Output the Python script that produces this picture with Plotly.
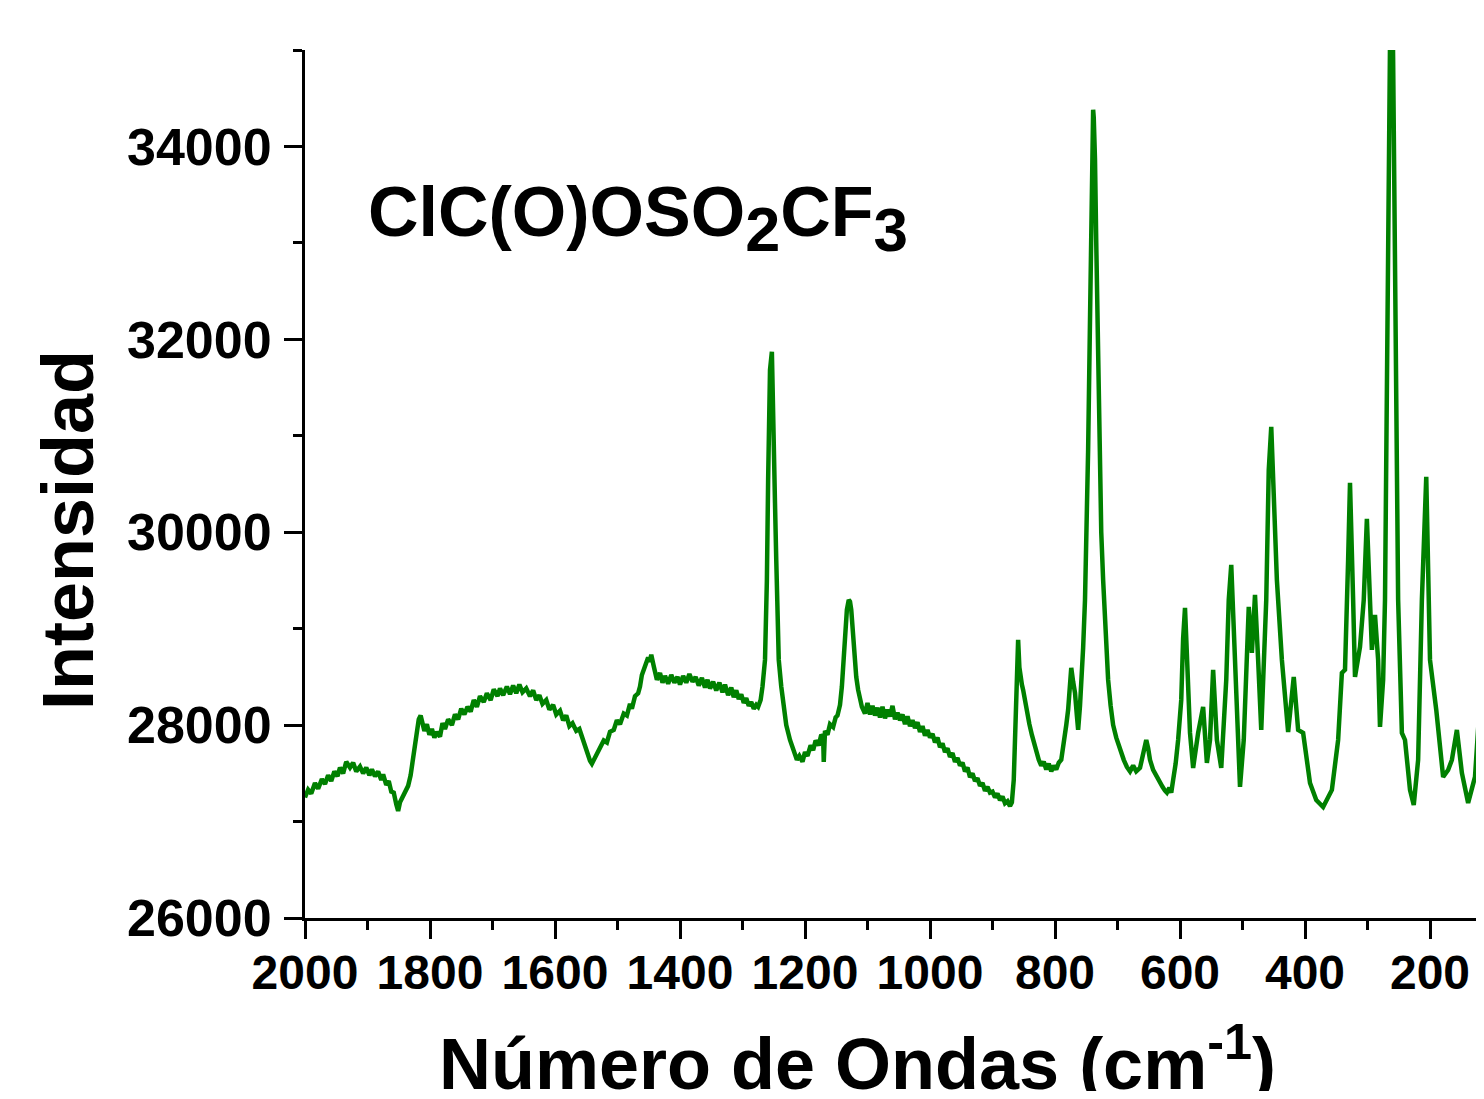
import plotly.graph_objects as go

# Raman spectrum (wavenumber in cm-1, intensity in counts)
wavenumber = [
    2000, 1995, 1990, 1984, 1979, 1973, 1968, 1963, 1958, 1953, 1948, 1944, 1939, 1934,
    1928, 1923, 1918, 1912, 1907, 1902, 1897, 1893, 1888, 1883, 1878, 1875, 1870, 1866,
    1862, 1858, 1854, 1851, 1848, 1845, 1840, 1835, 1831, 1827, 1824, 1822, 1818, 1815,
    1813, 1809, 1805, 1801, 1797, 1793, 1789, 1784, 1780, 1776, 1771, 1765, 1760, 1755,
    1750, 1745, 1740, 1735, 1730, 1725, 1720, 1714, 1709, 1703, 1698, 1692, 1688, 1683,
    1677, 1672, 1667, 1662, 1657, 1652, 1646, 1640, 1635, 1630, 1625, 1620, 1614, 1609,
    1603, 1598, 1592, 1587, 1582, 1577, 1572, 1566, 1561, 1555, 1551, 1547, 1544, 1541,
    1537, 1533, 1528, 1522, 1517, 1512, 1506, 1501, 1496, 1490, 1485, 1480, 1477, 1472,
    1467, 1464, 1461, 1458, 1455, 1451, 1448, 1446, 1442, 1439, 1437, 1432, 1428, 1424,
    1419, 1414, 1409, 1404, 1400, 1395, 1390, 1385, 1380, 1375, 1370, 1365, 1360, 1356,
    1352, 1347, 1342, 1337, 1332, 1328, 1323, 1318, 1314, 1310, 1306, 1302, 1298, 1294,
    1290, 1286, 1282, 1278, 1275, 1271,
    1268, 1264, 1261, 1259, 1256, 1253, 1250, 1248, 1246, 1244, 1242, 1238, 1235, 1230,
    1224, 1218, 1213, 1209, 1204, 1200, 1196, 1191, 1187, 1183, 1178, 1174, 1171, 1170,
    1168, 1164, 1160, 1155, 1151, 1148, 1144, 1141, 1138, 1135, 1133, 1130, 1128, 1126,
    1124, 1122, 1118, 1115, 1112, 1109, 1104, 1100, 1096, 1092, 1088, 1084, 1080, 1076,
    1072, 1068, 1064, 1060, 1056, 1052, 1048, 1044, 1040, 1036, 1032, 1028, 1024, 1020,
    1016, 1012, 1008, 1004, 1000, 996, 992, 988, 984, 980, 976, 972, 968, 964,
    960, 956, 952, 948, 944, 940, 936, 932, 928, 924, 920, 916, 912, 908,
    904, 900, 896, 892, 888, 884, 880, 876, 872, 869, 866, 862, 859, 857,
    856, 853, 851, 848, 845, 841, 837, 833, 829, 826, 822, 818, 814, 810,
    806, 802, 798, 794, 790, 786, 782, 779, 776, 774, 771, 768, 765, 763,
    760, 757, 755, 752, 749, 747, 744, 742, 740, 739, 738, 736, 734, 731,
    728, 726, 723, 719, 715, 711, 707, 702, 696, 690, 685, 680, 675, 670,
    664, 660, 657, 654, 651, 648, 643, 638, 632, 628, 624, 621, 617, 614,
    611, 607, 603, 600, 598, 595, 592, 590, 587, 585, 584,
    579, 571, 563, 557, 552, 547, 541, 534, 526, 522, 518, 515, 510, 504,
    498, 490, 485, 480, 475, 470, 462, 458, 454, 451, 445, 437, 427, 418,
    411, 403, 392, 382, 371, 357, 347, 341, 336, 331, 328, 323, 320, 312,
    306, 301, 296, 293, 288, 283, 280, 275, 272, 267, 264, 262, 259, 256,
    251, 245, 240, 232, 226, 219, 213, 206, 203, 200, 190, 179, 171, 165,
    157, 149, 139, 128, 120, 114, 104,
]
intensity = [
    27250, 27330, 27290, 27400, 27340, 27440, 27390, 27480, 27420, 27520, 27470, 27560, 27500, 27620,
    27560, 27610, 27520, 27570, 27500, 27560, 27480, 27540, 27470, 27520, 27430, 27490, 27380, 27420,
    27310, 27300, 27180, 27110, 27200, 27240, 27300, 27370, 27480, 27640, 27780, 27870, 28060, 28100,
    28050, 27940, 28010, 27900, 27960, 27870, 27930, 27880, 28020, 27960, 28060, 28000, 28110, 28060,
    28170, 28110, 28190, 28140, 28260, 28190, 28300, 28240, 28330, 28260, 28370, 28300, 28380, 28310,
    28400, 28320, 28410, 28330, 28420, 28340, 28380, 28300, 28360, 28260, 28310, 28220, 28260, 28160,
    28210, 28110, 28150, 28050, 28100, 27990, 28020, 27940, 27960, 27840, 27780, 27700, 27630, 27600,
    27650, 27720, 27760, 27840, 27820, 27930, 27950, 28050, 28010, 28120, 28100, 28220, 28170, 28300,
    28330, 28400, 28520, 28570, 28640, 28700, 28660, 28730, 28610, 28520, 28470, 28540, 28440, 28510,
    28430, 28520, 28440, 28500, 28420, 28510, 28440, 28530, 28450, 28500, 28410, 28490, 28390, 28470,
    28380, 28450, 28360, 28440, 28340, 28420, 28310, 28390, 28290, 28360, 28270, 28320, 28230, 28280,
    28200, 28240, 28170, 28210, 28190, 28260,
    28400, 28676, 29500, 30543, 31684, 31871, 31166, 30300, 29714, 29100, 28676, 28400, 28209, 28000,
    27846, 27720, 27640, 27680, 27620, 27720, 27680, 27790, 27740, 27840, 27790, 27900, 27880, 27618,
    27940, 27900, 28010, 27980, 28080, 28100, 28209, 28400, 28676, 29000, 29195, 29299, 29280, 29195,
    29000, 28780, 28500, 28365, 28250, 28189, 28120, 28230, 28110, 28200, 28100, 28180, 28080, 28190,
    28070, 28160, 28090, 28200, 28060, 28130, 28050, 28110, 28010, 28090, 27990, 28050, 27970, 28030,
    27930, 27990, 27890, 27950, 27870, 27910, 27820, 27870, 27770, 27810, 27720, 27760, 27670, 27710,
    27620, 27660, 27580, 27610, 27520, 27560, 27460, 27500, 27420, 27450, 27370, 27400, 27320, 27360,
    27300, 27310, 27250, 27290, 27220, 27260, 27190, 27210, 27160, 27200, 27431, 28261, 28884, 28600,
    28521, 28420, 28365, 28240, 28137, 28010, 27898, 27800, 27700, 27640, 27580, 27620, 27540, 27600,
    27520, 27580, 27540, 27610, 27640, 27795, 28000, 28158, 28400, 28593, 28450, 28334, 28100, 27950,
    28200, 28469, 28800, 29299, 30100, 30855, 32200, 33448, 34200, 34381, 34300, 33863, 33000, 31581,
    30500, 30000, 29506, 28900, 28469, 28200, 28002, 27870, 27743, 27640, 27566, 27520, 27580, 27520,
    27556, 27680, 27780, 27846, 27760, 27640, 27535, 27470, 27411, 27360, 27320, 27300, 27350, 27300,
    27431, 27600, 27846, 28100, 28261, 28900, 29216, 28900, 28469, 28100, 27919,
    27556, 27919, 28189, 27608, 27846, 28573, 27846, 27556, 28469, 29299, 29662, 29195, 28261, 27359,
    27846, 29226, 28749, 29351, 28676, 27950, 29299, 30647, 31093, 30647, 29506, 28676, 27929, 28500,
    27950, 27919, 27400, 27224, 27151, 27328, 27846, 28541, 28573, 29714, 30512, 29299, 28500, 28811,
    29299, 30139, 29299, 28780, 29143, 28676, 27981, 28469, 29299, 32411, 34900, 36500, 34900, 32411,
    29299, 27919, 27846, 27328, 27172, 27639, 29299, 30574, 29714, 28676, 28158, 27463, 27535, 27639,
    27950, 27504, 27193, 27463, 28261, 29299, 30543,
]

x_range = [2000, 113.6]
y_range = [26000, 35000]

fig = go.Figure()
fig.add_trace(go.Scatter(
    x=wavenumber, y=intensity, mode="lines",
    line=dict(color="#008000", width=4.5),
    showlegend=False, hoverinfo="skip",
))

tick_font_x = dict(family="Liberation Sans, Arial", size=48, color="black", weight="bold")
tick_font_y = dict(family="Liberation Sans, Arial", size=52, color="black", weight="bold")

# page has an 8px body margin: plot area spans page x 305..1484, y 50..918
fig.update_layout(
    width=1476, height=1083,
    margin=dict(l=297, r=0, t=42, b=173),
    paper_bgcolor="white", plot_bgcolor="white",
    xaxis=dict(
        range=x_range, showgrid=False, zeroline=False,
        showline=True, linecolor="black", linewidth=3,
        ticks="outside", ticklen=18, tickwidth=3, tickcolor="black",
        tick0=0, dtick=200, tickformat="d", tickfont=tick_font_x, ticklabelstandoff=-8,
        minor=dict(ticks="outside", ticklen=9, tickwidth=3, tickcolor="black", dtick=100, tick0=0),
    ),
    yaxis=dict(
        range=y_range, showgrid=False, zeroline=False,
        showline=True, linecolor="black", linewidth=3,
        ticks="outside", ticklen=18, tickwidth=3, tickcolor="black",
        tick0=0, dtick=2000, tickformat="d", tickfont=tick_font_y, ticklabelstandoff=2,
        minor=dict(ticks="outside", ticklen=9, tickwidth=3, tickcolor="black", dtick=1000, tick0=0),
    ),
    annotations=[
        dict(text="Intensidad", xref="paper", yref="paper",
             x=(68 - 305) / 1179, y=(918 - 530) / 868, textangle=-90,
             showarrow=False, xanchor="center", yanchor="middle",
             font=dict(family="Liberation Sans, Arial", size=72, color="black", weight="bold")),
        dict(text="Número de Ondas (cm<sup>-1</sup>)", xref="paper", yref="paper",
             x=(857 - 305) / 1179, y=(918 - 1058) / 868,
             showarrow=False, xanchor="center", yanchor="middle",
             font=dict(family="Liberation Sans, Arial", size=72, color="black", weight="bold")),
        dict(text="ClC(O)OSO<sub><span style='font-size:63px'>2</span></sub>CF"
                  "<sub><span style='font-size:62px'>3</span></sub>",
             xref="paper", yref="paper",
             x=(366 - 305) / 1179, y=(918 - 218) / 868,
             showarrow=False, xanchor="left", yanchor="middle",
             font=dict(family="Liberation Sans, Arial", size=70, color="black", weight="bold")),
    ],
)

fig.write_html("out.html")
